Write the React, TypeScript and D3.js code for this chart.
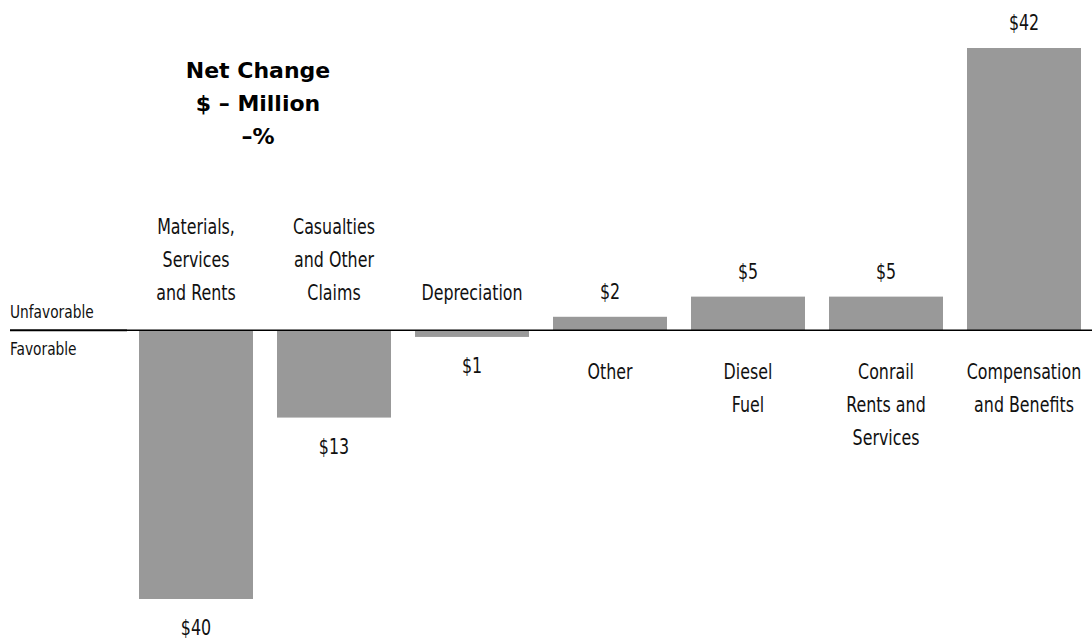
import * as d3 from "d3";

// net change in expenses, $ million (negative = favorable)
const categories = [
  "Materials, Services and Rents",
  "Casualties and Other Claims",
  "Depreciation",
  "Other",
  "Diesel Fuel",
  "Conrail Rents and Services",
  "Compensation and Benefits",
];
const labelLines = [
  ["Materials,", "Services", "and Rents"],
  ["Casualties", "and Other", "Claims"],
  ["Depreciation"],
  ["Other"],
  ["Diesel", "Fuel"],
  ["Conrail", "Rents and", "Services"],
  ["Compensation", "and Benefits"],
];
const values = [-40, -13, -1, 2, 5, 5, 42];
const valueLabels = ["$40", "$13", "$1", "$2", "$5", "$5", "$42"];
const titleLines = ["Net Change", "$ – Million", "–%"];

const W = 1092;
const H = 641;
const FONT = "'DejaVu Sans Condensed', sans-serif";
const BAR = "#999999";
const SQUEEZE = 0.84; // mimic a condensed face

// narrow text: translate to anchor point then squeeze horizontally
function Label({ x, y, size, anchor = "middle", sx = SQUEEZE, children }: any) {
  return (
    <text
      transform={`translate(${x},${y}) scale(${sx},1)`}
      textAnchor={anchor}
      fontSize={size}
      fill="#111"
    >
      {children}
    </text>
  );
}

export default function App() {
  const x = d3.scaleBand<string>().domain(categories).range([139, 1081]).paddingInner(0.174).paddingOuter(0);
  const y = d3.scaleLinear().domain([-40, 42]).range([599, 48]);
  const zero = y(0);
  const lh = 33;

  return (
    <svg width={W} height={H} style={{ position: "absolute", left: 0, top: 0, background: "#fff" }} fontFamily={FONT}>
      {/* bars */}
      {categories.map((c, i) => {
        const v = values[i];
        return (
          <rect
            key={c}
            x={x(c)}
            width={x.bandwidth()}
            y={Math.min(y(v), zero)}
            height={Math.abs(y(v) - zero)}
            fill={BAR}
          />
        );
      })}

      {/* baseline */}
      <line x1={10} x2={127} y1={zero} y2={zero} stroke="#000" strokeWidth={2} />
      <line x1={127} x2={W} y1={zero} y2={zero} stroke="#000" strokeWidth={1.5} />

      <Label x={10} y={zero - 12} size={17} anchor="start" sx={0.9}>Unfavorable</Label>
      <Label x={10} y={zero + 25} size={17} anchor="start" sx={0.9}>Favorable</Label>

      {/* category + value labels */}
      {categories.map((c, i) => {
        const v = values[i];
        const cx = (x(c) ?? 0) + x.bandwidth() / 2;
        const lines = labelLines[i];
        const catTexts = lines.map((l, j) => (
          <Label
            key={j}
            x={cx}
            y={v < 0 ? zero - 30 - (lines.length - 1 - j) * lh : zero + 49 + j * lh}
            size={21}
          >
            {l}
          </Label>
        ));
        const vy = v < 0 ? y(v) + 36 : y(v) - 18;
        return (
          <g key={c}>
            {catTexts}
            <Label x={cx} y={vy} size={21}>
              {valueLabels[i]}
            </Label>
          </g>
        );
      })}

      {/* title */}
      {titleLines.map((t, j) => (
        <text
          key={t}
          x={258}
          y={78 + j * 33}
          textAnchor="middle"
          fontSize={22}
          fontWeight="bold"
          fontFamily="'DejaVu Sans', sans-serif"
          fill="#000"
        >
          {t}
        </text>
      ))}
    </svg>
  );
}
